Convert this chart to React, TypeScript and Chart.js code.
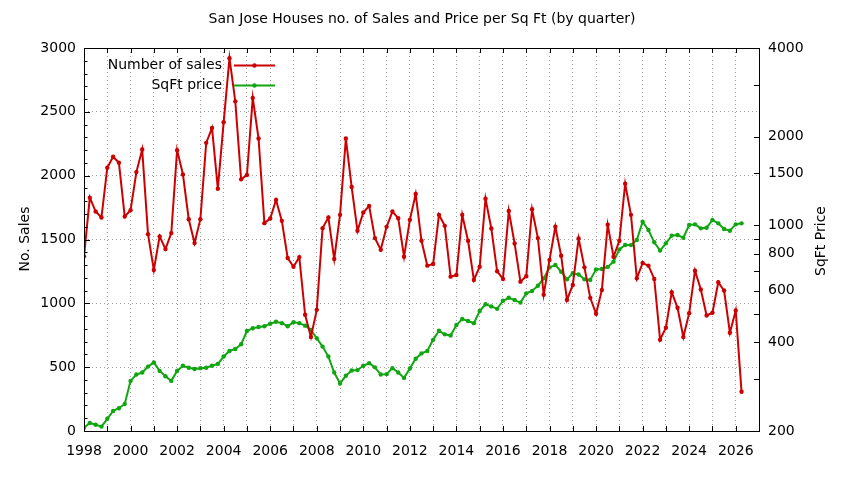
import React, { useEffect, useRef } from "react";
import { Chart, registerables } from "chart.js";

Chart.register(...registerables);

// quarterly data, first point is Q1 of firstYear
const firstYear = 1998;
const lastYear = 2027;

const sales = [
  1368, 1828, 1719, 1672, 2062, 2148, 2101, 1680, 1729, 2028, 2205, 1542,
  1261, 1524, 1425, 1550, 2200, 2010, 1659, 1472, 1659, 2257, 2374, 1898,
  2418, 2920, 2582, 1971, 2005, 2608, 2291, 1628, 1664, 1810, 1646, 1355,
  1287, 1362, 910, 736, 949, 1589, 1672, 1347, 1693, 2291, 1911, 1568,
  1711, 1763, 1511, 1420, 1599, 1719, 1667, 1365, 1654, 1856, 1490, 1295,
  1308, 1693, 1607, 1209, 1222, 1693, 1490, 1183, 1287, 1820, 1586, 1251,
  1191, 1724, 1469, 1170, 1212, 1737, 1511, 1068, 1340, 1600, 1373, 1027,
  1144, 1508, 1282, 1043, 918, 1105, 1615, 1365, 1490, 1937, 1693, 1196,
  1316, 1295, 1191, 715, 809, 1087, 965, 736, 923, 1256, 1108, 905,
  926, 1165, 1100, 770, 944, 307,
];

const sqftPrice = [
  205, 213, 210, 207, 220, 234, 239, 247, 296, 311, 316, 331,
  342, 320, 307, 296, 320, 333, 328, 325, 327, 328, 333, 338,
  358, 374, 380, 394, 437, 447, 451, 454, 463, 470, 465, 454,
  468, 465, 456, 441, 413, 387, 358, 316, 290, 308, 321, 322,
  333, 340, 329, 311, 312, 327, 316, 303, 326, 352, 367, 374,
  408, 438, 426, 422, 458, 480, 473, 465, 511, 539, 530, 520,
  554, 567, 557, 546, 587, 598, 623, 660, 719, 733, 695, 655,
  687, 680, 655, 652, 708, 710, 722, 752, 828, 857, 856, 891,
  1028, 963, 875, 820, 868, 922, 926, 907, 1002, 1007, 976, 981,
  1042, 1015, 971, 958, 1007, 1015,
];

const priceTicks = [200, 400, 600, 800, 1000, 1500, 2000, 4000];
const priceMinorTicks = [300, 500, 700, 900, 3000];

const titleText = "San Jose Houses no. of Sales and Price per Sq Ft (by quarter)";
const salesLabel = "Number of sales";
const priceLabel = "SqFt price";
const salesAxisTitle = "No. Sales";
const priceAxisTitle = "SqFt Price";

const RED = "#cc0000";
const GREEN = "#11a611";
const FONT = "DejaVu Sans";

const toPoints = (vals: number[]) =>
  vals.map((v, i) => ({ x: firstYear + i / 4, y: v }));

// gnuplot-like frame: box, inward ticks, titles and legend
const framePlugin = {
  id: "frame",
  afterDraw(chart: any) {
    const { ctx, chartArea: a, scales } = chart;
    ctx.save();
    ctx.strokeStyle = "#000";
    ctx.lineWidth = 1;
    ctx.strokeRect(a.left + 0.5, a.top + 0.5, a.right - a.left, a.bottom - a.top);

    ctx.beginPath();
    for (let yr = firstYear; yr <= lastYear; yr++) {
      const px = Math.round(scales.x.getPixelForValue(yr)) + 0.5;
      ctx.moveTo(px, a.bottom);
      ctx.lineTo(px, a.bottom - 5);
      ctx.moveTo(px, a.top);
      ctx.lineTo(px, a.top + 5);
    }
    for (let v = 0; v <= 3000; v += 100) {
      const py = Math.round(scales.y.getPixelForValue(v)) + 0.5;
      const len = v % 500 === 0 ? 6 : 3.5;
      ctx.moveTo(a.left, py);
      ctx.lineTo(a.left + len, py);
    }
    [...priceTicks, ...priceMinorTicks].forEach((v) => {
      const py = Math.round(scales.y1.getPixelForValue(v)) + 0.5;
      ctx.moveTo(a.right, py);
      ctx.lineTo(a.right - 5, py);
    });
    ctx.stroke();

    ctx.fillStyle = "#000";
    ctx.font = `14px "${FONT}"`;
    ctx.textBaseline = "middle";
    ctx.textAlign = "center";
    ctx.fillText(titleText, 422, 19);

    ctx.save();
    ctx.translate(25, 239);
    ctx.rotate(-Math.PI / 2);
    ctx.fillText(salesAxisTitle, 0, 0);
    ctx.restore();
    ctx.save();
    ctx.translate(821, 241);
    ctx.rotate(-Math.PI / 2);
    ctx.fillText(priceAxisTitle, 0, 0);
    ctx.restore();

    // legend
    const rows = [
      { text: salesLabel, color: RED, y: 65.5 },
      { text: priceLabel, color: GREEN, y: 85.5 },
    ];
    rows.forEach((r) => {
      ctx.textAlign = "right";
      ctx.fillStyle = "#000";
      ctx.fillText(r.text, 222, r.y);
      ctx.strokeStyle = r.color;
      ctx.lineWidth = 2;
      ctx.beginPath();
      ctx.moveTo(234, r.y);
      ctx.lineTo(275, r.y);
      ctx.stroke();
      ctx.fillStyle = r.color;
      ctx.beginPath();
      ctx.arc(254.5, r.y, 2.2, 0, Math.PI * 2);
      ctx.fill();
    });
    ctx.restore();
  },
};

const tickFont = { family: FONT, size: 14 };

const App = () => {
  const canvasRef = useRef<HTMLCanvasElement>(null);

  useEffect(() => {
    document.body.style.margin = "0";
    if (!canvasRef.current) return;
    const chart = new Chart(canvasRef.current, {
      type: "line",
      data: {
        datasets: [
          {
            label: salesLabel,
            data: toPoints(sales),
            yAxisID: "y",
            borderColor: RED,
            backgroundColor: RED,
            borderWidth: 2,
            pointRadius: 2.2,
            pointBorderWidth: 0,
            tension: 0,
          },
          {
            label: priceLabel,
            data: toPoints(sqftPrice),
            yAxisID: "y1",
            borderColor: GREEN,
            backgroundColor: GREEN,
            borderWidth: 2,
            pointRadius: 2.2,
            pointBorderWidth: 0,
            tension: 0,
          },
        ],
      },
      options: {
        responsive: false,
        animation: false,
        layout: { padding: { top: 48, left: 0, right: 0, bottom: 0 } },
        plugins: {
          legend: { display: false },
          title: { display: false },
          tooltip: { enabled: false },
        },
        scales: {
          x: {
            type: "linear",
            min: firstYear,
            max: lastYear,
            afterFit: (s: any) => {
              s.height = 49;
            },
            ticks: {
              stepSize: 1,
              autoSkip: false,
              maxRotation: 0,
              padding: 12,
              color: "#000",
              font: tickFont,
              callback: (v: any) => (Number(v) % 2 === 0 ? String(v) : ""),
            },
            grid: { color: "#a0a0a0", drawTicks: false },
            border: { display: false, dash: [1, 3] },
          },
          y: {
            type: "linear",
            position: "left",
            min: 0,
            max: 3000,
            afterFit: (s: any) => {
              s.width = 84;
            },
            ticks: {
              stepSize: 500,
              padding: 8,
              color: "#000",
              font: tickFont,
              callback: (v: any) => String(v),
            },
            grid: { color: "#a0a0a0", drawTicks: false },
            border: { display: false, dash: [1, 3] },
          },
          y1: {
            type: "logarithmic",
            position: "right",
            min: 200,
            max: 4000,
            afterFit: (s: any) => {
              s.width = 85;
            },
            afterBuildTicks: (s: any) => {
              s.ticks = priceTicks.map((v) => ({ value: v }));
            },
            ticks: {
              padding: 9,
              color: "#000",
              font: tickFont,
              callback: (v: any) => String(v),
            },
            grid: { display: false, drawTicks: false },
            border: { display: false },
          },
        },
      },
      plugins: [framePlugin],
    });
    return () => {
      chart.destroy();
    };
  }, []);

  return (
    <div style={{ width: 844, height: 480 }}>
      <canvas ref={canvasRef} width={844} height={480} style={{ display: "block" }} />
    </div>
  );
};

export default App;
